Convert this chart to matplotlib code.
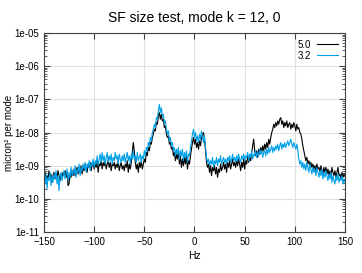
import numpy as np
import matplotlib
matplotlib.use('Agg')
import matplotlib.pyplot as plt
from matplotlib.ticker import FixedLocator, FuncFormatter, LogLocator, NullFormatter

plt.rcParams['font.family'] = ['Liberation Sans', 'DejaVu Sans']

# frequency axis (Hz), 1 Hz steps
freq = np.arange(-150, 151, 1)

# log10 of spectrum per mode (10 values per row)
log_50 = [
    -9.35, -9.20, -9.45, -9.30, -9.40, -9.15, -9.35, -9.25, -9.50, -9.30,
    -9.20, -9.40, -9.25, -9.35, -9.15, -9.30, -9.45, -9.25, -9.35, -9.20,
    -9.30, -9.15, -9.35, -9.20, -9.60, -9.55, -9.25, -9.35, -9.15, -9.30,
    -9.10, -9.30, -9.15, -9.05, -9.25, -9.10, -9.20, -9.00, -9.25, -9.05,
    -9.15, -8.95, -9.10, -9.20, -8.95, -9.05, -8.90, -9.15, -9.00, -8.90,
    -9.10, -8.95, -9.05, -8.85, -9.20, -8.95, -9.00, -8.85, -9.10, -8.90,
    -9.00, -8.85, -9.10, -8.95, -8.85, -9.05, -8.90, -9.15, -8.95, -9.00,
    -8.90, -9.10, -8.95, -9.05, -8.85, -9.15, -9.00, -8.90, -9.10, -9.00,
    -9.15, -8.95, -9.05, -8.85, -9.20, -8.95, -9.10, -8.90, -8.60, -8.30,
    -8.55, -8.90, -9.10, -8.95, -9.20, -8.90, -9.05, -8.85, -9.10, -8.95,
    -8.80, -8.90, -8.60, -8.70, -8.45, -8.55, -8.30, -8.35, -8.15, -8.05,
    -7.90, -7.95, -7.70, -7.75, -7.50, -7.40, -7.60, -7.45, -7.65, -7.60,
    -7.85, -7.80, -8.05, -8.15, -8.10, -8.35, -8.30, -8.50, -8.45, -8.70,
    -8.60, -8.85, -8.65, -8.80, -8.55, -8.95, -8.70, -9.05, -8.80, -9.00,
    -8.75, -8.95, -8.70, -9.10, -8.85, -8.95, -8.70, -8.50, -8.30, -8.15,
    -8.35, -8.20, -8.45, -8.30, -8.50, -8.25, -8.40, -8.15, -8.05, -8.00,
    -8.20, -8.55, -8.90, -9.05, -8.95, -9.20, -9.00, -9.30, -9.05, -9.15,
    -9.00, -9.25, -9.05, -9.35, -9.10, -9.20, -8.95, -9.15, -9.05, -8.90,
    -9.10, -8.95, -9.20, -8.90, -9.05, -8.85, -9.10, -8.95, -8.80, -9.00,
    -8.90, -9.05, -8.85, -9.00, -8.80, -8.95, -9.15, -8.90, -9.05, -8.80,
    -9.10, -8.85, -8.95, -8.70, -8.90, -8.75, -8.85, -8.60, -8.40, -8.20,
    -8.55, -8.70, -8.55, -8.75, -8.50, -8.65, -8.45, -8.60, -8.40, -8.55,
    -8.35, -8.50, -8.30, -8.45, -8.20, -8.35, -8.15, -8.00, -7.90, -7.75,
    -7.85, -7.70, -7.80, -7.65, -7.75, -7.60, -7.55, -7.75, -7.65, -7.85,
    -7.70, -7.80, -7.65, -7.85, -7.75, -7.70, -7.90, -7.75, -7.85, -7.70,
    -7.80, -7.95, -7.75, -7.90, -7.85, -8.00, -8.05, -8.20, -8.40, -8.55,
    -8.70, -8.85, -8.75, -8.95, -8.85, -9.00, -8.90, -9.05, -8.95, -9.10,
    -9.00, -9.15, -8.95, -9.10, -9.05, -9.20, -9.00, -9.15, -9.25, -9.05,
    -9.20, -9.05, -9.25, -9.10, -9.30, -9.15, -9.35, -9.05, -9.20, -9.30,
    -9.15, -9.35, -9.20, -9.05, -9.30, -9.25, -9.40, -9.20, -9.35, -9.25,
    -9.30]

log_32 = [
    -9.40, -9.55, -9.25, -9.70, -9.35, -9.45, -9.20, -9.60, -9.30, -9.50,
    -9.25, -9.40, -9.15, -9.55, -9.30, -9.75, -9.35, -9.20, -9.45, -9.30,
    -9.15, -9.40, -9.25, -9.10, -9.45, -9.20, -9.35, -9.05, -9.30, -9.15,
    -9.25, -9.00, -9.35, -9.10, -9.20, -8.95, -9.30, -9.05, -9.15, -8.95,
    -9.10, -8.90, -9.20, -8.95, -9.05, -8.85, -9.15, -8.90, -9.00, -8.80,
    -9.05, -8.85, -8.95, -8.70, -9.00, -8.80, -8.65, -8.90, -8.60, -8.85,
    -8.70, -8.95, -8.75, -8.60, -8.90, -8.70, -8.85, -8.65, -8.95, -8.75,
    -8.85, -8.60, -8.80, -8.70, -8.95, -8.65, -8.80, -8.90, -8.70, -8.85,
    -8.65, -8.90, -8.75, -8.60, -8.85, -8.70, -8.95, -8.65, -8.80, -8.55,
    -8.80, -8.70, -8.90, -8.60, -8.85, -8.75, -8.65, -8.90, -8.70, -8.80,
    -8.55, -8.70, -8.45, -8.55, -8.30, -8.40, -8.15, -8.25, -8.00, -7.90,
    -7.75, -7.85, -7.55, -7.60, -7.35, -7.15, -7.40, -7.25, -7.50, -7.45,
    -7.70, -7.65, -7.90, -8.05, -7.95, -8.25, -8.15, -8.40, -8.30, -8.55,
    -8.45, -8.70, -8.50, -8.65, -8.45, -8.80, -8.55, -8.70, -8.50, -8.85,
    -8.60, -8.75, -8.55, -8.90, -8.65, -8.70, -8.45, -8.25, -8.05, -7.90,
    -8.15, -8.00, -8.25, -8.10, -8.30, -8.05, -8.20, -7.95, -8.15, -8.30,
    -8.10, -8.45, -8.75, -8.90, -8.80, -9.00, -8.85, -8.95, -8.75, -9.05,
    -8.85, -8.95, -8.75, -9.00, -8.80, -8.90, -8.70, -8.95, -8.85, -8.75,
    -8.90, -8.80, -8.95, -8.75, -8.85, -8.70, -8.90, -8.80, -8.65, -8.85,
    -8.75, -8.90, -8.70, -8.85, -8.65, -8.80, -8.90, -8.70, -8.80, -8.65,
    -8.85, -8.70, -8.75, -8.60, -8.85, -8.65, -8.75, -8.55, -8.80, -8.65,
    -8.70, -8.55, -8.75, -8.60, -8.70, -8.50, -8.65, -8.55, -8.75, -8.60,
    -8.55, -8.70, -8.50, -8.65, -8.45, -8.60, -8.50, -8.40, -8.60, -8.45,
    -8.55, -8.40, -8.50, -8.35, -8.55, -8.40, -8.30, -8.50, -8.35, -8.45,
    -8.30, -8.45, -8.35, -8.25, -8.40, -8.30, -8.20, -8.35, -8.45, -8.30,
    -8.40, -8.50, -8.35, -8.55, -8.80, -8.95, -8.85, -9.05, -8.90, -9.10,
    -8.95, -9.15, -8.90, -9.05, -9.20, -8.95, -9.10, -9.25, -9.05, -9.20,
    -9.10, -9.30, -9.05, -9.20, -9.35, -9.15, -9.30, -9.10, -9.40, -9.20,
    -9.35, -9.15, -9.30, -9.45, -9.25, -9.40, -9.20, -9.50, -9.30, -9.45,
    -9.55, -9.30, -9.45, -9.25, -9.50, -9.35, -9.45, -9.30, -9.55, -9.40,
    -9.50]

xticks = [-150, -100, -50, 0, 50, 100, 150]
yticks = [1e-11, 1e-10, 1e-9, 1e-8, 1e-7, 1e-6, 1e-5]

fig = plt.figure(figsize=(3.62, 2.73), dpi=100)
ax = fig.add_axes([0.1215, 0.150, 0.8315, 0.729])

ax.plot(freq, 10.0 ** np.array(log_50), color='black', lw=0.8, label='5.0')
ax.plot(freq, 10.0 ** np.array(log_32), color='#00a0e8', lw=0.8, label='3.2')

ax.set_yscale('log')
ax.set_xlim(-150, 150)
ax.set_ylim(1e-11, 1e-5)
ax.xaxis.set_major_locator(FixedLocator(xticks))
ax.yaxis.set_major_locator(FixedLocator(yticks))
ax.yaxis.set_major_formatter(FuncFormatter(lambda v, p: '%.0e' % v))
ax.yaxis.set_minor_locator(LogLocator(base=10, subs=np.arange(2, 10)))
ax.yaxis.set_minor_formatter(NullFormatter())

ax.grid(True, which='major', color='#e0e0e0', lw=0.8)
ax.tick_params(which='both', direction='in', top=True, right=True,
               labelsize=7, colors='#404040', labelcolor='black')
ax.tick_params(which='major', length=4)
ax.tick_params(which='minor', length=2)
for s in ax.spines.values():
    s.set_color('#404040')
    s.set_linewidth(0.8)

ax.set_xlabel('Hz', fontsize=7.5, labelpad=3)
ax.set_ylabel('micron\u00b2 per mode', fontsize=7)
ax.yaxis.set_label_coords(-0.1, 0.5)
ax.set_title('SF size test, mode k = 12, 0', fontsize=10, pad=8)

ax.legend(loc='upper right', frameon=False, fontsize=7, markerfirst=False,
          handlelength=2.2, handletextpad=0.6, labelspacing=0.1,
          borderaxespad=0.3)

fig.savefig('out.png', dpi=100)
